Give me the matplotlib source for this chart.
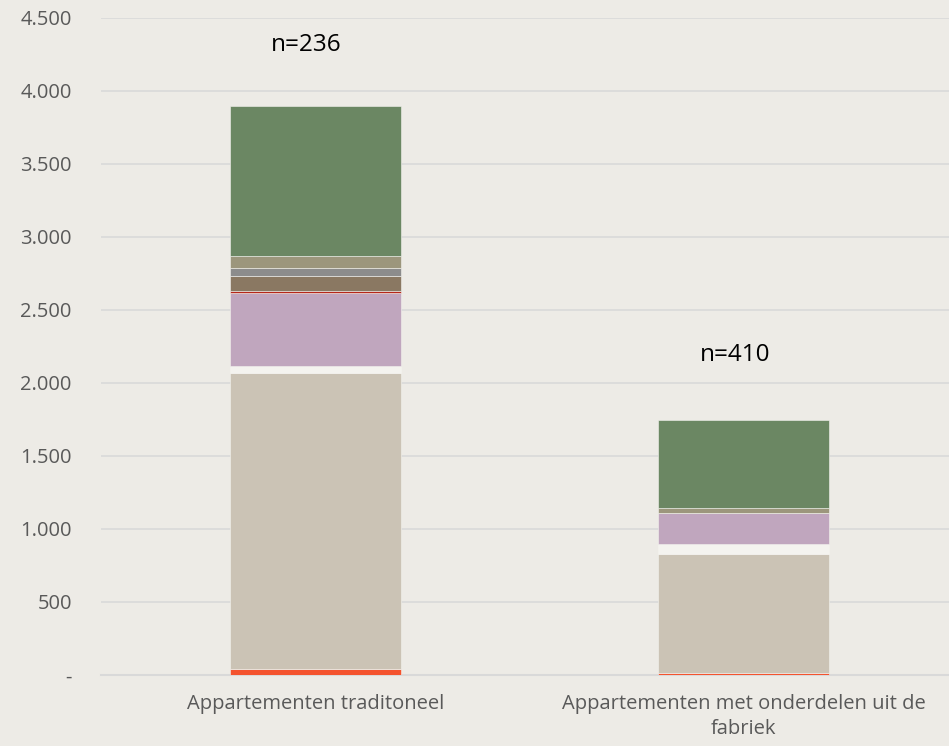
import matplotlib.pyplot as plt
import numpy as np
from matplotlib.ticker import FuncFormatter

plt.rcParams['font.family'] = ['Open Sans', 'DejaVu Sans']

categories = ["Appartementen traditoneel", "Appartementen met onderdelen uit de\nfabriek"]
n_labels = ["n=236", "n=410"]

# stacked components, bottom to top
series_names = ["onderdeel 1", "onderdeel 2", "onderdeel 3", "onderdeel 4",
                "onderdeel 5", "onderdeel 6", "onderdeel 7", "onderdeel 8", "onderdeel 9"]
series_values = [
    [40, 12],      # orange-red
    [2028, 820],   # beige
    [45, 64],      # light gap
    [502, 214],    # pink
    [18, 0],       # dark red
    [100, 0],      # brown
    [57, 0],       # gray
    [80, 32],      # khaki
    [1027, 602],   # green
]
series_colors = ["#F4532E", "#CBC3B5", "#F4F3EF", "#C0A6BE", "#B5271B",
                 "#8A7862", "#8C8C8C", "#9C967C", "#6B8763"]

fig = plt.figure(figsize=(9.49, 7.46), dpi=100)
bg = "#EDEBE6"
fig.patch.set_facecolor(bg)
ax = fig.add_axes([0.1064, 0.0952, 0.903, 0.8807])
ax.set_facecolor(bg)

x = np.arange(len(categories))
bottom = np.zeros(len(categories))
for name, vals, col in zip(series_names, series_values, series_colors):
    vals = np.array(vals, dtype=float)
    ax.bar(x, vals, width=0.40, bottom=bottom, color=col, label=name,
           edgecolor="#F4F3EF", linewidth=0.4, zorder=3)
    bottom += vals

# n labels above the bars
label_y = [4315, 2195]
for xi, txt, yy in zip(x, n_labels, label_y):
    ax.text(xi - 0.02, yy, txt, ha="center", va="center", fontsize=17.5, color="black")

ax.set_xlim(-0.5, 1.5)
ax.set_ylim(0, 4500)
ax.set_yticks(np.arange(0, 4501, 500))
ax.yaxis.set_major_formatter(FuncFormatter(
    lambda v, p: "-" if v == 0 else f"{int(v):,}".replace(",", ".")))
ax.set_xticks(x)
ax.set_xticklabels(categories, linespacing=1.3)
ax.tick_params(axis="both", length=0, labelsize=14.5, colors="#595959")
ax.tick_params(axis="x", pad=14)
ax.tick_params(axis="y", pad=21)

ax.grid(axis="y", color="#D9D9D9", linewidth=1.2, zorder=0)
for s in ["top", "right", "left"]:
    ax.spines[s].set_visible(False)
ax.spines["bottom"].set_color("#D9D9D9")
ax.spines["bottom"].set_linewidth(1.5)

fig.savefig("out.png", dpi=100, facecolor=bg)
